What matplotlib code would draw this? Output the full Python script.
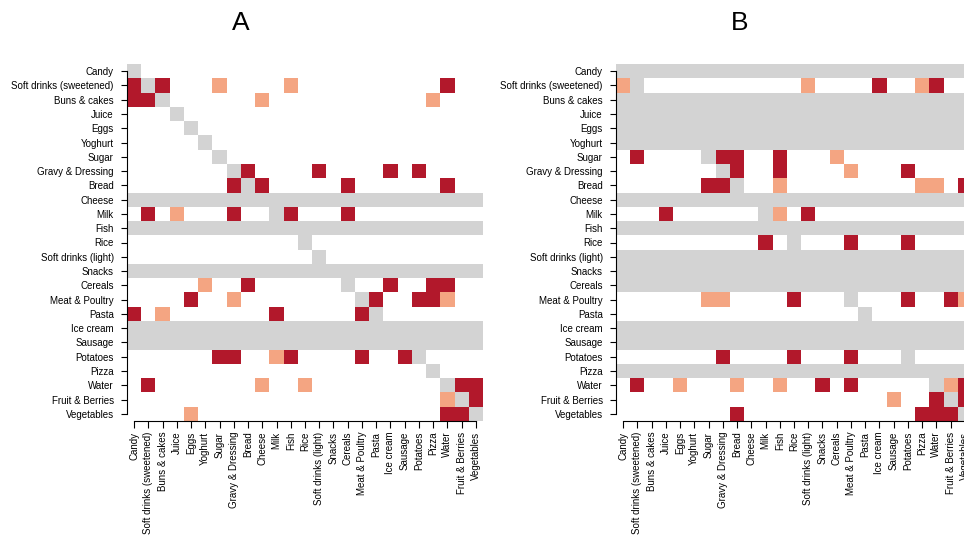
import numpy as np
import matplotlib
matplotlib.use("Agg")
import matplotlib.pyplot as plt
from matplotlib.colors import ListedColormap, BoundaryNorm

foods = ["Candy", "Soft drinks (sweetened)", "Buns & cakes", "Juice", "Eggs",
         "Yoghurt", "Sugar", "Gravy & Dressing", "Bread", "Cheese", "Milk",
         "Fish", "Rice", "Soft drinks (light)", "Snacks", "Cereals",
         "Meat & Poultry", "Pasta", "Ice cream", "Sausage", "Potatoes",
         "Pizza", "Water", "Fruit & Berries", "Vegetables"]

# g = not available (grey), . = none, o = weak, X = strong
panel_A = [
    "g........................",
    "XgX...o....o..........X..",
    "XXg......o...........o...",
    "...g.....................",
    "....g....................",
    ".....g...................",
    "......g..................",
    ".......gX....X....X.X....",
    ".......XgX.....X......X..",
    "ggggggggggggggggggggggggg",
    ".X.o...X..gX...X.........",
    "ggggggggggggggggggggggggg",
    "............g............",
    ".............g...........",
    "ggggggggggggggggggggggggg",
    ".....o..X......g..X..XX..",
    "....X..o........gX..XXo..",
    "X.o.......X.....Xg.......",
    "ggggggggggggggggggggggggg",
    "ggggggggggggggggggggggggg",
    "......XX..oX....X..Xg....",
    ".....................g...",
    ".X.......o..o.........gXX",
    "......................ogX",
    "....o.................XXg",
]

panel_B = [
    "ggggggggggggggggggggggggg",
    "og...........o....X..oX..",
    "ggggggggggggggggggggggggg",
    "ggggggggggggggggggggggggg",
    "ggggggggggggggggggggggggg",
    "ggggggggggggggggggggggggg",
    ".X....gXX..X...o.........",
    ".......gX..X....o...X....",
    "......XXg..o.........oo.X",
    "ggggggggggggggggggggggggg",
    "...X......go.X...........",
    "ggggggggggggggggggggggggg",
    "..........X.g...X...X....",
    "ggggggggggggggggggggggggg",
    "ggggggggggggggggggggggggg",
    "ggggggggggggggggggggggggg",
    "......oo....X...g...X..Xo",
    ".................g.......",
    "ggggggggggggggggggggggggg",
    "ggggggggggggggggggggggggg",
    ".......X....X...X...g....",
    "ggggggggggggggggggggggggg",
    ".X..o...o..o..X.X.....goX",
    "...................o..XgX",
    "........X............XXXg",
]

titles = ["A", "B"]

code = {"g": 0, ".": 1, "o": 2, "X": 3}
cmap = ListedColormap(["#D3D3D3", "#FFFFFF", "#F4A582", "#B2182B"])
norm = BoundaryNorm([-0.5, 0.5, 1.5, 2.5, 3.5], cmap.N)

plt.rcParams["font.family"] = ["Liberation Sans", "DejaVu Sans"]

W, H = 964, 536
fig = plt.figure(figsize=(W / 100, H / 100), dpi=100)

lefts = [127, 616]
title_x = [241, 740]
gw = 356
top, bottom = 64, 421

for k, panel in enumerate([panel_A, panel_B]):
    mat = np.array([[code[c] for c in row] for row in panel])
    ax = fig.add_axes([lefts[k] / W, 1 - bottom / H, gw / W, (bottom - top) / H])
    n = len(foods)
    ax.pcolormesh(np.arange(n + 1), np.arange(n + 1), mat, cmap=cmap, norm=norm,
                  shading="flat", edgecolors="none")
    ax.set_xlim(0, n)
    ax.set_ylim(n, 0)
    ax.set_xticks(np.arange(n) + 0.5)
    ax.set_yticks(np.arange(n) + 0.5)
    ax.set_xticklabels(foods, rotation=90, fontsize=7)
    ax.set_yticklabels(foods, fontsize=7)
    ax.tick_params(axis="y", length=4.5, width=0.8, pad=5)
    ax.tick_params(axis="x", length=5, width=0.8, pad=2.7)
    for s in ["top", "right"]:
        ax.spines[s].set_visible(False)
    ax.spines["left"].set_bounds(0.5, n - 0.5)
    ax.spines["bottom"].set_bounds(0.5, n - 0.5)
    ax.spines["left"].set_linewidth(0.8)
    ax.spines["bottom"].set_linewidth(0.8)
    fig.text(title_x[k] / W, 1 - 22.7 / H, titles[k], fontsize=19,
             ha="center", va="center")

fig.savefig("out.png", dpi=100)
